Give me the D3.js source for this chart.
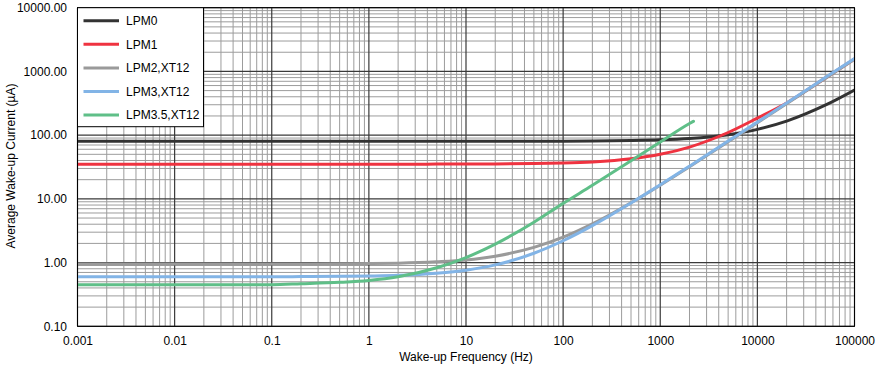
<!DOCTYPE html>
<html>
<head>
<meta charset="utf-8">
<script src="https://cdn.jsdelivr.net/npm/d3@7"></script>
<style>
  html, body { margin: 0; padding: 0; background: #fff; }
  svg { display: block; }
  text { font-family: "Liberation Sans", Arial, sans-serif; font-size: 12px; fill: #000; }
</style>
</head>
<body>
<svg id="chart" width="889" height="367"></svg>
<script>
// ---- Data ----
const seriesNames = ["LPM0", "LPM1", "LPM2,XT12", "LPM3,XT12", "LPM3.5,XT12"];
const seriesColors = ["#333333", "#ef3340", "#9a9a9a", "#82b4e6", "#5fbf88"];

const freq = [0.001, 0.01, 0.1, 0.2, 0.5, 1, 2, 5, 10, 20, 50, 100, 200, 500, 1000, 2000, 5000, 10000, 20000, 50000, 100000];
const lpm0  = [80, 80, 80, 80, 80, 80, 80, 80, 80, 80, 80.2, 80.4, 80.9, 82.2, 84.3, 88.6, 101.5, 123, 166, 295, 510];
const lpm1  = [35, 35, 35, 35, 35, 35, 35, 35.1, 35.2, 35.3, 35.75, 36.5, 38, 42.5, 50, 65, 110, 185, 320, 785, 1560];
const lpm2  = [0.95, 0.95, 0.95, 0.953, 0.958, 0.965, 0.98, 1.03, 1.1, 1.26, 1.73, 2.5, 4.05, 8.7, 16.4, 32, 78.5, 156, 311, 776, 1551];
const lpm3  = [0.6, 0.6, 0.6, 0.603, 0.608, 0.616, 0.63, 0.68, 0.76, 0.92, 1.4, 2.2, 3.8, 8.6, 16.6, 32.6, 80.6, 160.6, 320, 800, 1600];
const freq35 = [0.001, 0.01, 0.1, 0.2, 0.5, 1, 2, 5, 10, 20, 50, 100, 200, 500, 1000, 2000, 2200];
const lpm35 = [0.45, 0.45, 0.45, 0.465, 0.49, 0.525, 0.6, 0.83, 1.2, 1.95, 4.3, 8.5, 16.3, 39.5, 78, 152, 165];

const xTickValues = [0.001, 0.01, 0.1, 1, 10, 100, 1000, 10000, 100000];
const xTickLabels = ["0.001", "0.01", "0.1", "1", "10", "100", "1000", "10000", "100000"];
const yTickValues = [0.1, 1, 10, 100, 1000, 10000];
const yTickLabels = ["0.10", "1.00", "10.00", "100.00", "1000.00", "10000.00"];

const seriesX = [freq, freq, freq, freq, freq35];
const seriesY = [lpm0, lpm1, lpm2, lpm3, lpm35];

// ---- Layout ----
const L = 77.5, R = 854.5, T = 7.7, B = 326.3;
const svg = d3.select("#chart");

const x = d3.scaleLog().domain([0.001, 100000]).range([L, R]);
const y = d3.scaleLog().domain([0.1, 10000]).range([B, T]);

// minor grid values
const minorX = [];
for (let e = -3; e < 5; e++) for (let m = 2; m <= 9; m++) minorX.push(m * Math.pow(10, e));
const minorY = [];
for (let e = -1; e < 4; e++) for (let m = 2; m <= 9; m++) minorY.push(m * Math.pow(10, e));

const grid = svg.append("g");
grid.selectAll(".mx").data(minorX).join("line")
  .attr("x1", d => x(d)).attr("x2", d => x(d)).attr("y1", T).attr("y2", B)
  .attr("stroke", "#9c9c9c").attr("stroke-width", 1);
grid.selectAll(".my").data(minorY).join("line")
  .attr("x1", L).attr("x2", R).attr("y1", d => y(d)).attr("y2", d => y(d))
  .attr("stroke", "#9c9c9c").attr("stroke-width", 1);
grid.selectAll(".Mx").data(xTickValues).join("line")
  .attr("x1", d => x(d)).attr("x2", d => x(d)).attr("y1", T).attr("y2", B)
  .attr("stroke", "#3a3a3a").attr("stroke-width", 1.2);
grid.selectAll(".My").data(yTickValues).join("line")
  .attr("x1", L).attr("x2", R).attr("y1", d => y(d)).attr("y2", d => y(d))
  .attr("stroke", "#3a3a3a").attr("stroke-width", 1.2);

// clip
svg.append("clipPath").attr("id", "clip").append("rect")
  .attr("x", L).attr("y", T).attr("width", R - L).attr("height", B - T);

const line = d3.line().curve(d3.curveMonotoneX);
const lines = svg.append("g").attr("clip-path", "url(#clip)");
seriesNames.forEach((name, i) => {
  const pts = seriesX[i].map((f, j) => [x(f), y(seriesY[i][j])]);
  lines.append("path")
    .attr("d", line(pts))
    .attr("fill", "none")
    .attr("stroke", seriesColors[i])
    .attr("stroke-width", 3)
    .attr("stroke-linecap", "round")
    .attr("stroke-linejoin", "round");
});

// plot border
svg.append("rect").attr("x", L).attr("y", T).attr("width", R - L).attr("height", B - T)
  .attr("fill", "none").attr("stroke", "#000").attr("stroke-width", 1);

// axes (labels only)
const xAxis = d3.axisBottom(x).tickValues(xTickValues)
  .tickFormat((d, i) => xTickLabels[i]).tickSize(0).tickPadding(10.5);
const gx = svg.append("g").attr("transform", `translate(0,${B})`).call(xAxis);
gx.select(".domain").remove();
gx.selectAll("text").style("font-size", "12px").attr("fill", "#000")
  .style("font-family", '"Liberation Sans", Arial, sans-serif');

const yAxis = d3.axisLeft(y).tickValues(yTickValues)
  .tickFormat((d, i) => yTickLabels[i]).tickSize(0).tickPadding(10.5);
const gy = svg.append("g").attr("transform", `translate(${L},0)`).call(yAxis);
gy.select(".domain").remove();
gy.selectAll("text").style("font-size", "12px").attr("fill", "#000")
  .style("font-family", '"Liberation Sans", Arial, sans-serif');

// axis titles
svg.append("text").attr("x", (L + R) / 2).attr("y", 361).attr("text-anchor", "middle")
  .text("Wake-up Frequency (Hz)");
svg.append("text").attr("transform", `translate(14.5,166) rotate(-90)`)
  .attr("text-anchor", "middle").text("Average Wake-up Current (µA)");

// legend
const lg = svg.append("g");
lg.append("rect").attr("x", L).attr("y", T).attr("width", 203.5 - L).attr("height", 126.7 - T)
  .attr("fill", "#fff").attr("stroke", "#000").attr("stroke-width", 1);
seriesNames.forEach((name, i) => {
  const cy = 20.7 + i * 23.6;
  lg.append("line").attr("x1", 83.5).attr("x2", 119).attr("y1", cy).attr("y2", cy)
    .attr("stroke", seriesColors[i]).attr("stroke-width", 3);
  lg.append("text").attr("x", 126).attr("y", cy).attr("dy", "0.35em").text(name);
});
</script>
</body>
</html>
